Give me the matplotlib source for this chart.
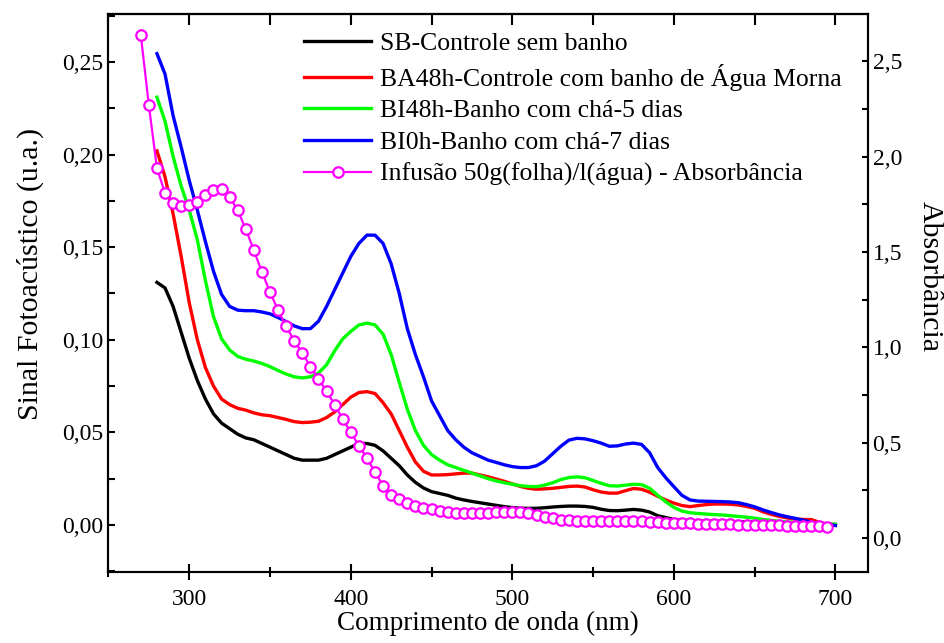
import numpy as np
import matplotlib
matplotlib.use('Agg')
import matplotlib.pyplot as plt
from matplotlib.ticker import MultipleLocator, FuncFormatter

plt.rcParams['font.family'] = ['Liberation Serif', 'DejaVu Serif']

# comprimento de onda (nm) - espectros fotoacusticos
wl = np.arange(280, 705, 5)

sb = [0.131, 0.128, 0.118, 0.104, 0.090, 0.078, 0.068, 0.060, 0.055, 0.052,
      0.049, 0.047, 0.046, 0.044, 0.042, 0.040, 0.038, 0.036, 0.035, 0.035,
      0.035, 0.036, 0.038, 0.040, 0.042, 0.044, 0.044, 0.043, 0.040, 0.036,
      0.032, 0.027, 0.023, 0.020, 0.018, 0.017, 0.016, 0.0145, 0.0135, 0.0127,
      0.012, 0.0113, 0.0106, 0.0099, 0.0094, 0.009, 0.009, 0.009, 0.0093, 0.0097,
      0.010, 0.0102, 0.0102, 0.010, 0.0095, 0.0085, 0.0078, 0.0077, 0.008, 0.0084,
      0.008, 0.007, 0.005, 0.004, 0.003, 0.0027, 0.0025, 0.0023, 0.002, 0.002,
      0.002, 0.0019, 0.0018, 0.0016, 0.0015, 0.0013, 0.0012, 0.0011, 0.001, 0.0009,
      0.0008, 0.0006, 0.0005, 0.0004, 0.0003]

ba48 = [0.202, 0.188, 0.168, 0.145, 0.120, 0.100, 0.085, 0.075, 0.068, 0.065,
        0.063, 0.062, 0.0605, 0.0595, 0.059, 0.058, 0.057, 0.0558, 0.0553, 0.0555,
        0.056, 0.058, 0.061, 0.065, 0.069, 0.0715, 0.072, 0.071, 0.066, 0.060,
        0.051, 0.042, 0.034, 0.029, 0.027, 0.027, 0.0272, 0.0276, 0.028, 0.028,
        0.027, 0.026, 0.0248, 0.0236, 0.0222, 0.0208, 0.0198, 0.0193, 0.0195, 0.0198,
        0.0203, 0.0208, 0.021, 0.0205, 0.019, 0.0178, 0.0172, 0.0172, 0.0185, 0.0197,
        0.0193, 0.0177, 0.0155, 0.0135, 0.0118, 0.0105, 0.0099, 0.0105, 0.011, 0.0113,
        0.0113, 0.0112, 0.0108, 0.010, 0.009, 0.0072, 0.0058, 0.0047, 0.0038, 0.0032,
        0.003, 0.0029, 0.0015, 0.0005, 0.0]

bi48 = [0.231, 0.218, 0.199, 0.183, 0.170, 0.154, 0.132, 0.1125, 0.1005, 0.0945,
        0.091, 0.0895, 0.0885, 0.0872, 0.0855, 0.0834, 0.0815, 0.080, 0.0794, 0.080,
        0.082, 0.0865, 0.094, 0.1005, 0.1045, 0.108, 0.109, 0.108, 0.103, 0.092,
        0.077, 0.0625, 0.051, 0.043, 0.038, 0.035, 0.0325, 0.031, 0.0295, 0.028,
        0.0265, 0.025, 0.0238, 0.0228, 0.022, 0.0212, 0.0208, 0.0207, 0.0215, 0.0228,
        0.0245, 0.0256, 0.026, 0.0255, 0.024, 0.0225, 0.0212, 0.021, 0.0215, 0.022,
        0.0218, 0.0198, 0.016, 0.0125, 0.0095, 0.0075, 0.0066, 0.0062, 0.0059, 0.0056,
        0.0054, 0.005, 0.0046, 0.0042, 0.0037, 0.003, 0.0025, 0.002, 0.0017, 0.0014,
        0.0012, 0.001, 0.0008, 0.0005, 0.0003]

bi0 = [0.2545, 0.2435, 0.221, 0.204, 0.186, 0.170, 0.153, 0.137, 0.1245, 0.118,
       0.116, 0.1157, 0.1157, 0.115, 0.114, 0.112, 0.1098, 0.1075, 0.106, 0.106,
       0.110, 0.118, 0.127, 0.136, 0.145, 0.152, 0.1565, 0.1565, 0.152, 0.141,
       0.125, 0.106, 0.092, 0.080, 0.067, 0.059, 0.051, 0.046, 0.042, 0.039,
       0.037, 0.035, 0.0338, 0.0325, 0.0315, 0.031, 0.031, 0.032, 0.0345, 0.0385,
       0.0425, 0.0458, 0.0468, 0.0465, 0.0455, 0.0442, 0.0425, 0.0427, 0.0437, 0.0442,
       0.0435, 0.039, 0.031, 0.0255, 0.0207, 0.016, 0.0135, 0.0129, 0.0128, 0.0127,
       0.0126, 0.0124, 0.012, 0.011, 0.0098, 0.0082, 0.0068, 0.0055, 0.0045, 0.0036,
       0.0026, 0.0015, 0.0007, 0.0002, -0.0003]

# absorbancia da infusao
wl_inf = np.arange(270, 700, 5)
infusao = [2.64, 2.27, 1.94, 1.81, 1.76, 1.74, 1.745, 1.765, 1.80, 1.825,
           1.83, 1.79, 1.72, 1.62, 1.51, 1.395, 1.29, 1.195, 1.11, 1.035,
           0.97, 0.90, 0.835, 0.77, 0.70, 0.625, 0.555, 0.485, 0.42, 0.345,
           0.275, 0.225, 0.205, 0.185, 0.17, 0.16, 0.15, 0.143, 0.138, 0.134,
           0.132, 0.132, 0.133, 0.134, 0.136, 0.137, 0.138, 0.137, 0.133, 0.122,
           0.112, 0.104, 0.097, 0.093, 0.091, 0.090, 0.090, 0.089, 0.089, 0.089,
           0.089, 0.088, 0.087, 0.085, 0.083, 0.081, 0.079, 0.078, 0.077, 0.076,
           0.075, 0.074, 0.073, 0.072, 0.071, 0.070, 0.069, 0.068, 0.067, 0.066,
           0.065, 0.064, 0.063, 0.062, 0.061, 0.060]

fig = plt.figure(figsize=(9.45, 6.43), dpi=100)
ax = fig.add_axes([0.1148, 0.1104, 0.8034, 0.8678])
ax2 = ax.twinx()

lw = 2.4
l1, = ax.plot(wl, sb, color='black', lw=lw, label='SB-Controle sem banho')
l2, = ax.plot(wl, ba48, color='#ff0000', lw=lw, label='BA48h-Controle com banho de Água Morna')
l3, = ax.plot(wl, bi48, color='#00ff00', lw=lw, label='BI48h-Banho com chá-5 dias')
l4, = ax.plot(wl, bi0, color='#0000ff', lw=lw, label='BI0h-Banho com chá-7 dias')
l5, = ax2.plot(wl_inf, infusao, color='#ff00ff', lw=1.6, marker='o', ms=7.5,
               mfc='white', mec='#ff00ff', mew=1.6,
               label='Infusão 50g(folha)/l(água) - Absorbância')

ax.set_xlim(250, 720)
ax.set_ylim(-0.0254, 0.2759)
ax2.set_ylim(-0.178, 2.749)

ax.xaxis.set_major_locator(MultipleLocator(100))
ax.xaxis.set_minor_locator(MultipleLocator(50))
ax.yaxis.set_major_locator(MultipleLocator(0.05))
ax.yaxis.set_minor_locator(MultipleLocator(0.025))
ax2.yaxis.set_major_locator(MultipleLocator(0.5))
ax2.yaxis.set_minor_locator(MultipleLocator(0.25))

ax.yaxis.set_major_formatter(FuncFormatter(lambda v, p: f'{v:.2f}'.replace('.', ',')))
ax2.yaxis.set_major_formatter(FuncFormatter(lambda v, p: f'{v:.1f}'.replace('.', ',')))

ax.tick_params(axis='x', which='major', direction='inout', length=12, width=1.5, labelsize=17, pad=6)
ax.tick_params(axis='x', which='minor', direction='inout', length=7.5, width=1.5)
ax.tick_params(axis='y', which='both', direction='in', length=5, width=1.5, labelsize=17)
ax2.tick_params(axis='y', which='both', direction='in', length=4.5, width=1.5, labelsize=17)

top = ax.secondary_xaxis('top')
top.xaxis.set_major_locator(MultipleLocator(50))
top.tick_params(direction='in', length=8, width=1.5, labeltop=False)

for a in (ax, ax2):
    for s in a.spines.values():
        s.set_linewidth(1.5)
top.spines['top'].set_linewidth(1.5)

ax.set_xlabel('Comprimento de onda (nm)', fontsize=19.5, labelpad=1)
ax.set_ylabel('Sinal Fotoacústico (u.a.)', fontsize=21.5, labelpad=13)
ax2.set_ylabel('Absorbância', fontsize=21.5, rotation=270, labelpad=29)
ax.yaxis.label.set_y(0.535)
ax2.yaxis.label.set_y(0.53)

ax2.legend(handles=[l1, l2, l3, l4, l5], loc='upper left', bbox_to_anchor=(0.258, 0.968),
           frameon=False, fontsize=18.5, handlelength=2.6, handletextpad=0.35,
           labelspacing=0.34, numpoints=1, borderaxespad=0, borderpad=0)

fig.savefig('out.png', dpi=100)
